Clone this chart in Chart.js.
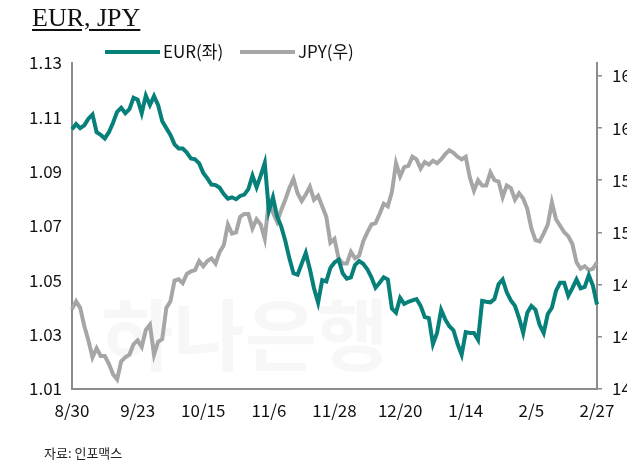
<!DOCTYPE html>
<html>
<head>
<meta charset="utf-8">
<script src="https://cdn.jsdelivr.net/npm/chart.js@4.4.1/dist/chart.umd.min.js"></script>
<style>
  html, body { margin: 0; padding: 0; background: #fff; overflow: hidden; }
  #wrap { position: relative; width: 640px; height: 461px; }
  #title {
    position: absolute; left: 32px; top: 3px;
    font-family: 'Liberation Serif', 'DejaVu Serif', serif;
    font-size: 26px; color: #111; text-decoration: underline;
    text-underline-offset: 3px;
  }
  #source {
    position: absolute; left: 44px; top: 443px;
    font-family: 'Noto Sans CJK KR', sans-serif; font-size: 13px; color: #222;
  }
</style>
</head>
<body>
<div id="wrap">
  <canvas id="fxChart" width="640" height="461"></canvas>
  <div id="title">EUR, JPY</div>
  <div id="source">자료: 인포맥스</div>
</div>
<script>
// 눈금 라벨 (16 영업일 간격)
var tickLabels = ['8/30', '9/23', '10/15', '11/6', '11/28', '12/20', '1/14', '2/5', '2/27'];

// EUR (좌축)
var eurValues = [
  1.1056, 1.1075, 1.1060, 1.1070, 1.1095, 1.1110, 1.1045, 1.1035, 1.1022, 1.1045,
  1.1080, 1.1120, 1.1135, 1.1115, 1.1130, 1.1172, 1.1165, 1.1115, 1.1180, 1.1145,
  1.1178, 1.1145, 1.1085, 1.1060, 1.1035, 1.1000, 1.0985, 1.0985, 1.0970, 1.0948,
  1.0945, 1.0930, 1.0895, 1.0875, 1.0852, 1.0850, 1.0840, 1.0817, 1.0800, 1.0805,
  1.0798, 1.0810, 1.0815, 1.0835, 1.0885, 1.0842, 1.0885, 1.0932, 1.0755, 1.0805,
  1.0735, 1.0698, 1.0645, 1.0580, 1.0525, 1.0520, 1.0560, 1.0600, 1.0540, 1.0470,
  1.0417, 1.0500, 1.0495, 1.0545, 1.0565, 1.0575, 1.0525, 1.0505, 1.0510, 1.0555,
  1.0570, 1.0560, 1.0540, 1.0510, 1.0472, 1.0490, 1.0510, 1.0502, 1.0395, 1.0380,
  1.0434, 1.0412, 1.0420, 1.0425, 1.0430, 1.0405, 1.0364, 1.0360, 1.0264, 1.0305,
  1.0390, 1.0355, 1.0330, 1.0315, 1.0265, 1.0225, 1.0308, 1.0305, 1.0305, 1.0280,
  1.0423, 1.0420, 1.0418, 1.0430, 1.0485, 1.0502, 1.0455, 1.0425, 1.0405, 1.0360,
  1.0305, 1.0380, 1.0405, 1.0390, 1.0335, 1.0305, 1.0375, 1.0398, 1.0460, 1.0490,
  1.0490, 1.0442, 1.0470, 1.0502, 1.0470, 1.0475, 1.0518, 1.0480, 1.0410
];

// JPY (우축)
var jpyValues = [
  146.1, 146.7, 146.2, 144.8, 143.7, 142.4, 143.1, 142.5, 142.5, 141.9,
  141.1, 140.7, 142.1, 142.4, 142.6, 143.4, 143.7, 143.2, 144.5, 144.9,
  142.6, 143.6, 143.8, 146.2, 146.7, 148.3, 148.4, 148.1, 148.8, 149.0,
  149.1, 149.8, 149.4, 149.8, 150.0, 149.6, 150.5, 151.0, 152.6, 151.9,
  152.0, 153.2, 153.4, 153.4, 152.3, 153.0, 152.6, 151.5, 154.4, 153.5,
  152.8, 153.7, 154.5, 155.4, 156.1, 155.0, 154.4, 154.9, 155.5, 154.5,
  154.8, 154.0, 153.2, 151.2, 151.5, 150.0, 149.6, 149.6, 150.5, 150.0,
  150.2, 151.3, 152.0, 152.6, 152.7, 153.4, 154.2, 154.0, 155.1, 157.3,
  156.3, 157.0, 157.1, 157.8, 157.6, 156.9, 157.4, 157.2, 157.5, 157.3,
  157.6, 158.0, 158.3, 158.1, 157.8, 157.6, 157.8, 156.2, 155.2, 156.0,
  155.6, 155.6, 156.6, 156.0, 155.9, 154.7, 155.6, 155.4, 154.5, 155.0,
  154.6, 153.8, 152.3, 151.4, 151.3, 151.9, 152.6, 154.3, 153.0, 152.5,
  152.0, 151.7, 151.1, 149.7, 149.2, 149.4, 149.1, 149.2, 149.7
];

var eurTicks = [1.01, 1.03, 1.05, 1.07, 1.09, 1.11, 1.13];
var jpyTicks = [140, 144, 148, 152, 156, 160, 164];

// 카테고리: 16번째마다 날짜 라벨
var categories = eurValues.map(function(v, i) {
  return i % 16 === 0 ? tickLabels[i / 16] : '';
});

var axisColor = '#8c8c8c';
var tickFont = { family: "'Liberation Sans Narrow', 'Noto Sans CJK KR', sans-serif", size: 17 };

// 배경 워터마크
var watermark = {
  id: 'watermark',
  beforeDatasetsDraw: function(chart) {
    var ctx = chart.ctx;
    ctx.save();
    ctx.fillStyle = '#f7f7f7';
    ctx.font = "bold 78px 'Noto Sans CJK KR'";
    ctx.textAlign = 'center';
    ctx.textBaseline = 'middle';
    ctx.fillText('하나은행', 245, 335);
    ctx.restore();
  }
};

// 범례 (선 모양)
var lineLegend = {
  id: 'lineLegend',
  afterDraw: function(chart) {
    var ctx = chart.ctx;
    var spots = [105, 240];
    ctx.save();
    ctx.font = "17px 'Liberation Sans Narrow', 'Noto Sans CJK KR', sans-serif";
    ctx.textBaseline = 'middle';
    chart.data.datasets.forEach(function(ds, i) {
      var x = spots[i];
      ctx.strokeStyle = ds.borderColor;
      ctx.lineWidth = 4;
      ctx.beginPath();
      ctx.moveTo(x, 52);
      ctx.lineTo(x + 55, 52);
      ctx.stroke();
      ctx.fillStyle = '#111';
      ctx.fillText(ds.label, x + 58, 52);
    });
    ctx.restore();
  }
};

var ctx = document.getElementById('fxChart').getContext('2d');
var chart = new Chart(ctx, {
  type: 'line',
  data: {
    labels: categories,
    datasets: [{
      label: 'EUR(좌)',
      data: eurValues,
      borderColor: '#07807a',
      borderWidth: 4,
      pointRadius: 0,
      tension: 0,
      yAxisID: 'y'
    }, {
      label: 'JPY(우)',
      data: jpyValues,
      borderColor: '#a6a6a6',
      borderWidth: 4,
      pointRadius: 0,
      tension: 0,
      yAxisID: 'y1'
    }]
  },
  options: {
    responsive: false,
    animation: false,
    layout: { padding: { top: 63, left: 0, right: 0, bottom: 28 } },
    plugins: {
      legend: { display: false },
      tooltip: { enabled: false }
    },
    scales: {
      x: {
        offset: false,
        grid: { display: false, drawTicks: false },
        border: { color: axisColor, width: 2 },
        ticks: {
          autoSkip: false, maxRotation: 0, padding: 12,
          color: '#111', font: tickFont
        }
      },
      y: {
        position: 'left',
        min: 1.01, max: 1.13,
        grid: { display: false, drawTicks: false },
        border: { color: axisColor, width: 2 },
        afterBuildTicks: function(axis) {
          axis.ticks = eurTicks.map(function(v) { return { value: v }; });
        },
        afterFit: function(axis) { axis.width = 72; },
        ticks: {
          padding: 10, color: '#111', font: tickFont,
          callback: function(v) { return v.toFixed(2); }
        }
      },
      y1: {
        position: 'right',
        min: 140, max: 165,
        grid: { display: true, drawOnChartArea: false, drawTicks: true, tickLength: 5, color: axisColor, lineWidth: 1.5 },
        border: { color: axisColor, width: 2 },
        afterBuildTicks: function(axis) {
          axis.ticks = jpyTicks.map(function(v) { return { value: v }; });
        },
        afterFit: function(axis) { axis.width = 640 - 597; },
        ticks: { padding: 10, color: '#111', font: tickFont }
      }
    }
  },
  plugins: [watermark, lineLegend]
});
</script>
</body>
</html>
